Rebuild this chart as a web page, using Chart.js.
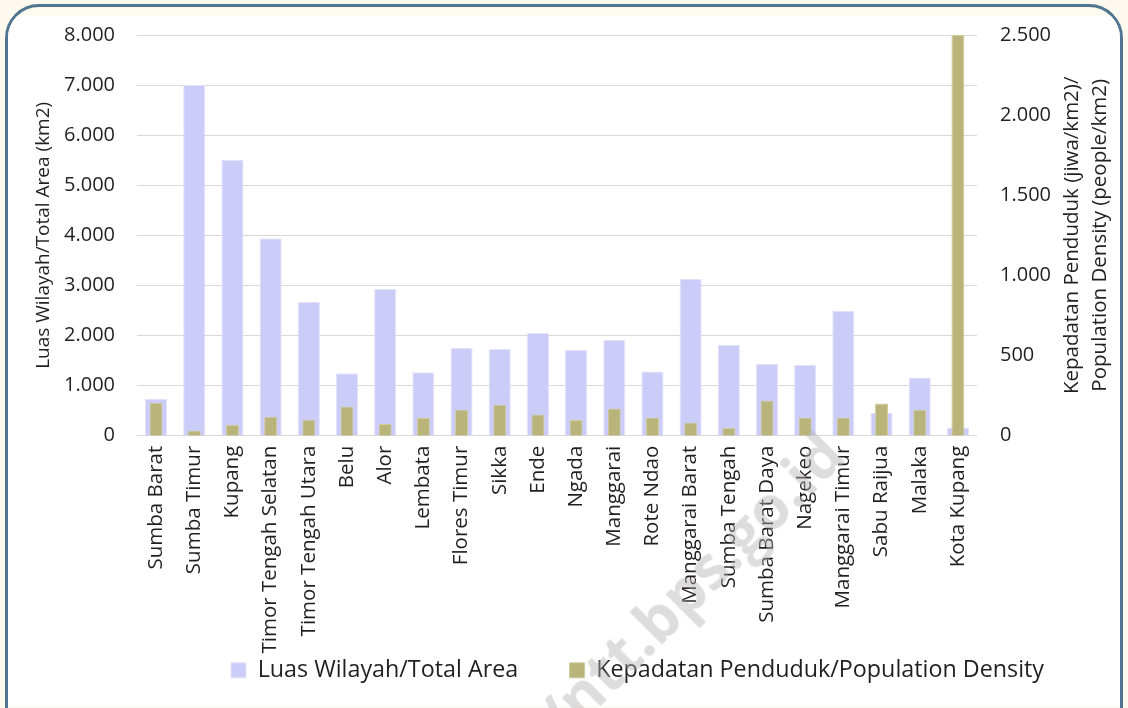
<!DOCTYPE html>
<html>
<head>
<meta charset="utf-8">
<script src="https://cdn.jsdelivr.net/npm/chart.js@4.4.0/dist/chart.umd.min.js"></script>
<style>
  html, body { margin: 0; padding: 0; width: 1128px; height: 708px; overflow: hidden; background: #fdf9ef; }
  #frame {
    position: absolute; left: 5px; top: 4px; width: 1112px; height: 740px;
    border: 3px solid #4f7591; border-radius: 34px; background: #fdfaf1; overflow: hidden;
  }
  #paper { position: absolute; left: 0; top: 9px; width: 1112px; height: 690px; background: #ffffff; }
  #wrap { position: absolute; left: 0; top: 0; width: 1245px; height: 708px; }
  #mark {
    position: absolute; left: 456px; top: 794px; transform-origin: 0 100%; transform: rotate(-45deg);
    font: bold 60px "Open Sans", sans-serif; color: rgba(180, 180, 180, 0.45); white-space: nowrap;
    pointer-events: none;
  }
</style>
</head>
<body>
<div id="frame"><div id="paper"></div></div>
<div id="wrap"><canvas id="chart" width="1245" height="708"></canvas></div>
<div id="mark">http://ntt.bps.go.id</div>
<script>
// kabupaten / kota
const regions = [
  'Sumba Barat', 'Sumba Timur', 'Kupang', 'Timor Tengah Selatan', 'Timor Tengah Utara',
  'Belu', 'Alor', 'Lembata', 'Flores Timur', 'Sikka', 'Ende', 'Ngada', 'Manggarai',
  'Rote Ndao', 'Manggarai Barat', 'Sumba Tengah', 'Sumba Barat Daya', 'Nagekeo',
  'Manggarai Timur', 'Sabu Raijua', 'Malaka', 'Kota Kupang'
];

// luas wilayah (km2)
const totalArea = [
  737, 7000, 5510, 3940, 2670, 1248, 2928, 1266, 1752, 1731, 2050,
  1711, 1910, 1280, 3130, 1810, 1430, 1410, 2490, 452, 1160, 165
];

// kepadatan penduduk (jiwa/km2)
const density = [
  205, 33, 66, 118, 100, 182, 73, 110, 162, 193, 133,
  98, 170, 114, 83, 48, 220, 114, 114, 201, 162, 2500
];

const areaTicks = [0, 8000, 1000];
const densityTicks = [0, 2500, 500];

const FONT = '"Open Sans", sans-serif';
const TEXT = '#231f20';

// 8000 -> "8.000"
function fmt(v) {
  return String(v).replace(/\B(?=(\d{3})+(?!\d))/g, '.');
}

// judul sumbu kanan dibaca dari bawah ke atas, dua baris
const rightTitle = {
  id: 'rightTitle',
  afterDraw(chart) {
    const ctx = chart.ctx;
    const area = chart.chartArea;
    const cy = (area.top + area.bottom) / 2;
    ctx.save();
    ctx.font = '20.5px ' + FONT;
    ctx.fillStyle = TEXT;
    ctx.textAlign = 'center';
    ctx.textBaseline = 'middle';
    ctx.translate(1072, cy);
    ctx.rotate(-Math.PI / 2);
    ctx.fillText('Kepadatan Penduduk (jiwa/km2)/', 0, 0);
    ctx.fillText('Population Density (people/km2)', 0, 28);
    ctx.restore();
  }
};

const ctx = document.getElementById('chart').getContext('2d');
new Chart(ctx, {
  type: 'bar',
  data: {
    labels: regions,
    datasets: [
      {
        label: 'Luas Wilayah/Total Area' + '\u00a0'.repeat(8),
        data: totalArea,
        yAxisID: 'y',
        backgroundColor: '#ccccf9',
        borderColor: '#e2e2fc',
        borderWidth: 1,
        grouped: false,
        barPercentage: 0.58,
        categoryPercentage: 1,
        order: 2
      },
      {
        label: 'Kepadatan Penduduk/Population Density',
        data: density,
        yAxisID: 'y1',
        backgroundColor: '#b8b47a',
        borderColor: '#cfcc9d',
        borderWidth: 1,
        grouped: false,
        barPercentage: 0.34,
        categoryPercentage: 1,
        order: 1
      }
    ]
  },
  options: {
    responsive: false,
    animation: false,
    layout: { padding: { left: 30, top: 33, right: 0, bottom: 16 } },
    plugins: {
      tooltip: { enabled: false },
      legend: {
        position: 'bottom',
        labels: {
          sort: (a, b) => a.datasetIndex - b.datasetIndex,
          boxWidth: 15,
          boxHeight: 15,
          padding: 3,
          color: TEXT,
          font: { family: FONT, size: 23.3 }
        }
      }
    },
    scales: {
      x: {
        grid: { display: false, drawTicks: false },
        border: { display: false },
        ticks: {
          color: TEXT,
          font: { family: FONT, size: 20.5 },
          minRotation: 90,
          maxRotation: 90,
          autoSkip: false,
          padding: 10
        },
        afterFit(scale) { scale.height = 220; }
      },
      y: {
        position: 'left',
        min: areaTicks[0],
        max: areaTicks[1],
        ticks: {
          stepSize: areaTicks[2],
          color: TEXT,
          font: { family: FONT, size: 20 },
          padding: 22,
          callback: v => fmt(v)
        },
        grid: { color: '#d9d9d9', lineWidth: 1, drawTicks: false },
        border: { display: false },
        title: {
          display: true,
          text: 'Luas Wilayah/Total Area (km2)',
          color: TEXT,
          font: { family: FONT, size: 19 },
          padding: { top: 2, bottom: 0 }
        },
        afterFit(scale) { scale.width = 107; }
      },
      y1: {
        position: 'right',
        min: densityTicks[0],
        max: densityTicks[1],
        ticks: {
          stepSize: densityTicks[2],
          color: TEXT,
          font: { family: FONT, size: 20 },
          padding: 23,
          callback: v => fmt(v)
        },
        grid: { display: false, drawTicks: false },
        border: { display: false },
        afterFit(scale) { scale.width = 268; }
      }
    }
  },
  plugins: [rightTitle]
});
</script>
</body>
</html>
